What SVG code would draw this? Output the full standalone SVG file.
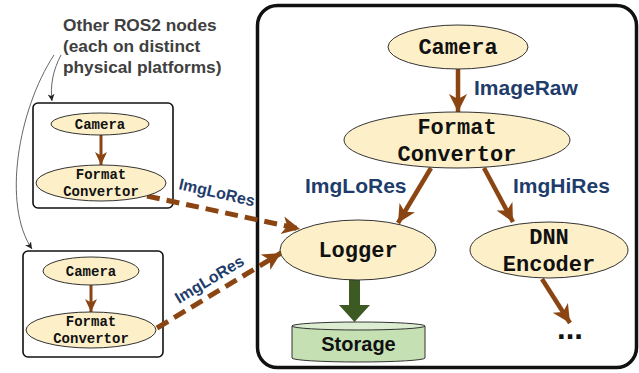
<svg xmlns="http://www.w3.org/2000/svg" width="639" height="373" viewBox="0 0 639 373">
  <style>
    .node { fill: #fdf0c9; stroke: #333333; stroke-width: 1; }
    .mono { font-family: "Liberation Mono", "DejaVu Sans Mono", monospace; font-weight: bold; fill: #111111; text-anchor: middle; }
    .lbl { font-family: "Liberation Sans", Arial, sans-serif; font-weight: bold; fill: #1f3d6b; }
    .note { font-family: "Liberation Sans", Arial, sans-serif; font-weight: bold; fill: #404040; font-size: 17.3px; }
    .flow { stroke: #8b4513; fill: none; }
    .dash { stroke: #8b4513; fill: none; stroke-width: 5; stroke-dasharray: 13 7; }
    .thin { stroke: #555555; fill: none; stroke-width: 0.9; }
    .box { fill: #ffffff; stroke: #111111; }
  </style>
  <defs>
    <marker id="headL" markerUnits="userSpaceOnUse" markerWidth="20" markerHeight="20" viewBox="0 0 20 20" refX="18" refY="10" orient="auto">
      <path d="M0,1 L18,10 L0,19 L5,10 Z" fill="#8b4513"/>
    </marker>
    <marker id="headS" markerUnits="userSpaceOnUse" markerWidth="14" markerHeight="14" viewBox="0 0 14 14" refX="13" refY="7" orient="auto">
      <path d="M0,1 L13,7 L0,13 L3.5,7 Z" fill="#8b4513"/>
    </marker>
    <marker id="headThin" markerUnits="userSpaceOnUse" markerWidth="8" markerHeight="8" viewBox="0 0 8 8" refX="7" refY="4" orient="auto">
      <path d="M0,0.5 L7,4 L0,7.5 L2,4 Z" fill="#222222"/>
    </marker>
  </defs>

  <!-- main platform frame -->
  <rect class="box" x="257.5" y="5.5" width="379" height="362" rx="20" stroke-width="3.5"/>

  <!-- remote platforms -->
  <g id="platform1">
    <rect class="box" x="33" y="103" width="140" height="105" rx="5" stroke-width="1.6"/>
  </g>
  <g id="platform2">
    <rect class="box" x="23" y="251" width="140" height="106" rx="5" stroke-width="1.6"/>
  </g>

  <text class="note" x="63" y="31">Other ROS2 nodes</text>
  <text class="note" x="63" y="52">(each on distinct</text>
  <text class="note" x="63" y="73">physical platforms)</text>

  <g id="connectors">
    <!-- pointers from the note to the remote platforms -->
    <path class="thin" d="M61,55 C53,70 50,86 52,101" marker-end="url(#headThin)"/>
    <path class="thin" d="M54,55 C18,110 2,205 32,249" marker-end="url(#headThin)"/>

    <!-- main pipeline -->
    <line class="flow" x1="458" y1="69" x2="458" y2="112" stroke-width="4.5" marker-end="url(#headL)"/>
    <line class="flow" x1="431" y1="168" x2="398" y2="223" stroke-width="4.5" marker-end="url(#headL)"/>
    <line class="flow" x1="484" y1="168" x2="513" y2="222" stroke-width="4.5" marker-end="url(#headL)"/>
    <line class="flow" x1="542" y1="279" x2="570" y2="323" stroke-width="4.5" marker-end="url(#headL)"/>

    <!-- logger to storage -->
    <path d="M349,279 H360 V305 H370 L354.5,322 L339,305 H349 Z" fill="#3d5a23"/>

    <!-- remote pipelines -->
    <line class="flow" x1="101" y1="135" x2="101" y2="165" stroke-width="3" marker-end="url(#headS)"/>
    <line class="flow" x1="91" y1="285" x2="91" y2="312" stroke-width="3" marker-end="url(#headS)"/>

    <!-- remote publishers to logger -->
    <line class="dash" x1="147" y1="196" x2="300" y2="229" marker-end="url(#headL)"/>
    <line class="dash" x1="157" y1="328" x2="281" y2="253" marker-end="url(#headL)"/>

    <text class="lbl" font-size="21" x="474" y="95">ImageRaw</text>
    <text class="lbl" font-size="21" x="305" y="193">ImgLoRes</text>
    <text class="lbl" font-size="21" x="513" y="193">ImgHiRes</text>
    <text class="lbl" font-size="16" transform="translate(178,189) rotate(13)">ImgLoRes</text>
    <text class="lbl" font-size="16" transform="translate(179,304) rotate(-31)">ImgLoRes</text>
  </g>

  <g id="camera">
    <ellipse class="node" cx="458" cy="47" rx="70" ry="22"/>
    <text class="mono" font-size="22" x="458" y="54">Camera</text>
  </g>
  <g id="format-convertor">
    <ellipse class="node" cx="457" cy="140" rx="113" ry="28"/>
    <text class="mono" font-size="22" x="457" y="134">Format</text>
    <text class="mono" font-size="22" x="457" y="161">Convertor</text>
  </g>
  <g id="logger">
    <ellipse class="node" cx="358" cy="250" rx="78" ry="30"/>
    <text class="mono" font-size="22" x="358" y="257">Logger</text>
  </g>
  <g id="dnn-encoder">
    <ellipse class="node" cx="549" cy="250" rx="79" ry="28"/>
    <text class="mono" font-size="22" x="549" y="244">DNN</text>
    <text class="mono" font-size="22" x="549" y="271">Encoder</text>
  </g>
  <g id="storage">
    <path d="M292,326 V358 A66.5,4 0 0 0 425,358 V326 Z" fill="#c5e0b3" stroke="#333333" stroke-width="1"/>
    <ellipse cx="358.5" cy="326" rx="66.5" ry="4" fill="#dcedd2" stroke="#333333" stroke-width="1"/>
    <text x="358.5" y="351" font-family="'Liberation Sans', Arial, sans-serif" font-weight="bold" font-size="20" text-anchor="middle" fill="#111111">Storage</text>
  </g>
  <g id="more">
    <text x="570" y="339" font-family="'Liberation Sans', Arial, sans-serif" font-weight="bold" font-size="31" text-anchor="middle" fill="#111111">...</text>
  </g>

  <g id="camera-1">
    <ellipse class="node" cx="100" cy="124" rx="49" ry="11"/>
    <text class="mono" font-size="14" x="100" y="128.5">Camera</text>
  </g>
  <g id="format-convertor-1">
    <ellipse class="node" cx="101" cy="183" rx="65" ry="18"/>
    <text class="mono" font-size="14" x="101" y="179">Format</text>
    <text class="mono" font-size="14" x="101" y="196">Convertor</text>
  </g>
  <g id="camera-2">
    <ellipse class="node" cx="91" cy="271" rx="48" ry="14"/>
    <text class="mono" font-size="14" x="91" y="276">Camera</text>
  </g>
  <g id="format-convertor-2">
    <ellipse class="node" cx="91" cy="330" rx="65" ry="18"/>
    <text class="mono" font-size="14" x="91" y="326">Format</text>
    <text class="mono" font-size="14" x="91" y="343">Convertor</text>
  </g>
</svg>
